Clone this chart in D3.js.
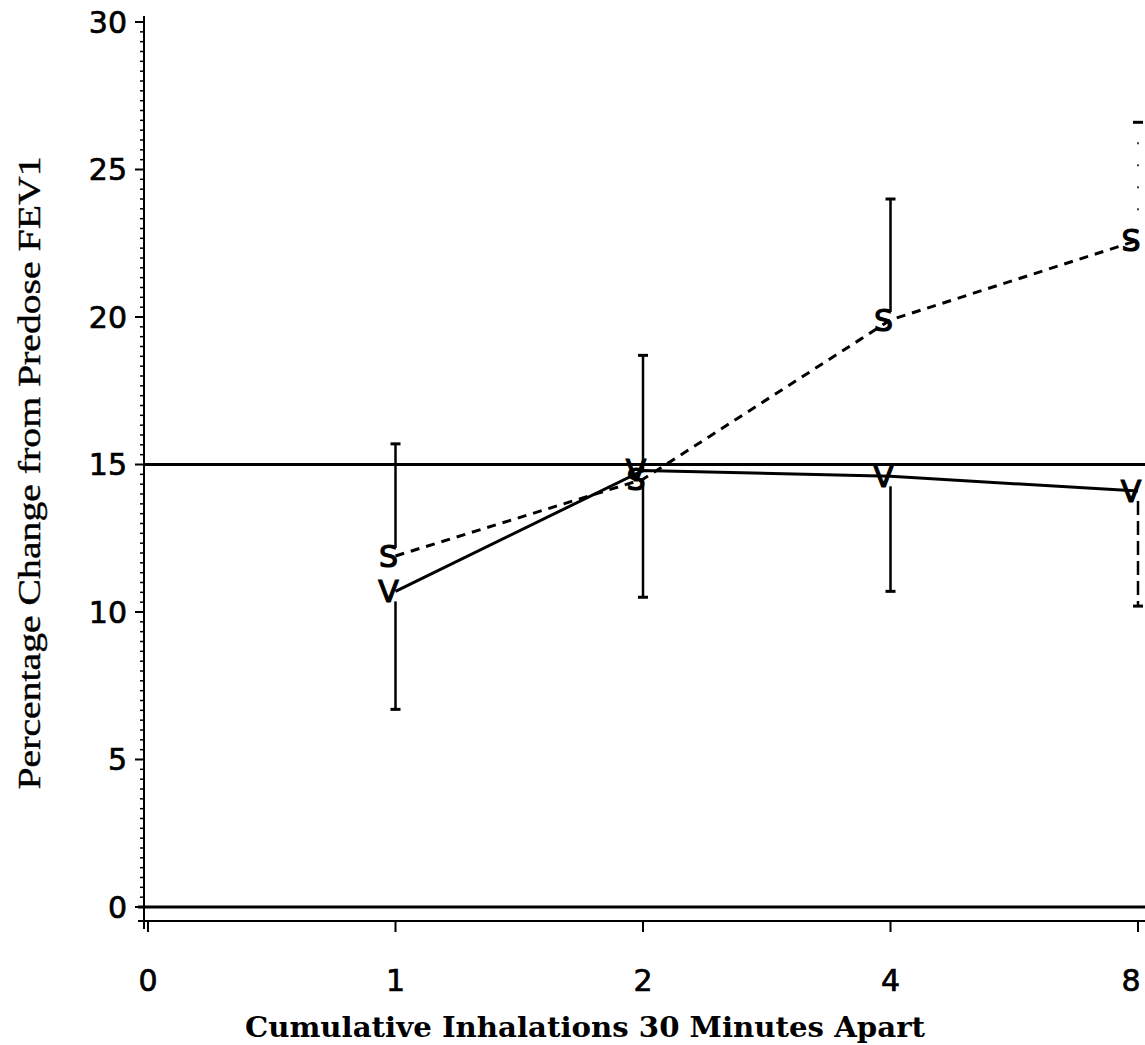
<!DOCTYPE html>
<html>
<head>
<meta charset="utf-8">
<script src="https://cdn.jsdelivr.net/npm/d3@7"></script>
<style>
body{margin:0;background:#fff;}
svg{display:block;}
</style>
</head>
<body>
<svg id="chart" width="1145" height="1045"></svg>
<script>
// values
const xCats=["0","1","2","4","8"];
const doses=["1","2","4","8"];
const sMean=[11.9,14.5,19.9,22.6];
const sUpper=[15.7,18.7,24.0,26.6];
const vMean=[10.7,14.8,14.6,14.1];
const vLower=[6.7,10.5,10.7,10.2];
const yTicks=[0,5,10,15,20,25,30];
const refLevel=15;
const xTitle="Cumulative Inhalations 30 Minutes Apart";
const yTitle="Percentage Change from Predose FEV1";

window.onload=function(){
	const svg=d3.select("#chart");
	const x=d3.scalePoint().domain(xCats).range([148,1138]);
	const y=d3.scaleLinear().domain([0,30]).range([907,22]);
	const axisX=144,axisBottom=921;

	//y axis line and ticks
	svg.append("line")
		.attr("x1",axisX).attr("x2",axisX)
		.attr("y1",y(30)-6).attr("y2",axisBottom+8)
		.attr("stroke","#000").attr("stroke-width",2);
	const minor=d3.range(0,30,1/3).filter(function(d){return Math.abs(d-Math.round(d/5)*5)>0.01;});
	svg.append("g").selectAll("line")
		.data(minor).enter().append("line")
			.attr("x1",axisX-4).attr("x2",axisX)
			.attr("y1",function(d){return y(d)}).attr("y2",function(d){return y(d)})
			.attr("stroke","#000").attr("stroke-width",1.5);
	svg.append("g").selectAll("line")
		.data(yTicks).enter().append("line")
			.attr("x1",axisX-9).attr("x2",axisX)
			.attr("y1",function(d){return y(d)}).attr("y2",function(d){return y(d)})
			.attr("stroke","#000").attr("stroke-width",2);
	svg.append("g").selectAll("text")
		.data(yTicks).enter().append("text")
			.attr("x",127).attr("y",function(d){return y(d)})
			.attr("dy","0.36em")
			.attr("text-anchor","end")
			.style("font-family","DejaVu Sans")
			.style("font-size","30px")
			.style("stroke","#000").style("stroke-width",0.7)
			.text(function(d){return d});

	//x axis
	svg.append("line")
		.attr("x1",138).attr("x2",1145)
		.attr("y1",axisBottom).attr("y2",axisBottom)
		.attr("stroke","#000").attr("stroke-width",2);
	svg.append("g").selectAll("line")
		.data(xCats).enter().append("line")
			.attr("x1",function(d){return x(d)}).attr("x2",function(d){return x(d)})
			.attr("y1",axisBottom).attr("y2",axisBottom+11)
			.attr("stroke","#000").attr("stroke-width",2);
	svg.append("g").selectAll("text")
		.data(xCats).enter().append("text")
			.attr("x",function(d){return Math.min(x(d),1131)}).attr("y",991)
			.attr("text-anchor","middle")
			.style("font-family","DejaVu Sans")
			.style("font-size","30px")
			.style("stroke","#000").style("stroke-width",0.7)
			.text(function(d){return d});

	//zero line and reference line
	svg.append("line")
		.attr("x1",138).attr("x2",1145)
		.attr("y1",y(0)).attr("y2",y(0))
		.attr("stroke","#000").attr("stroke-width",3);
	svg.append("line")
		.attr("x1",axisX).attr("x2",1145)
		.attr("y1",y(refLevel)).attr("y2",y(refLevel))
		.attr("stroke","#000").attr("stroke-width",3);

	//titles
	svg.append("text")
		.attr("x",585).attr("y",1037)
		.attr("text-anchor","middle")
		.attr("textLength",680).attr("lengthAdjust","spacingAndGlyphs")
		.style("font-family","DejaVu Serif")
		.style("font-weight","bold")
		.style("font-size","28px")
		.text(xTitle);
	svg.append("text")
		.attr("transform","translate(40,473) rotate(-90)")
		.attr("text-anchor","middle")
		.attr("textLength",633).attr("lengthAdjust","spacingAndGlyphs")
		.style("font-family","Liberation Serif")
		.style("font-size","31px")
		.style("stroke","#000").style("stroke-width",0.4)
		.text(yTitle);

	//error bars: S upward, V downward
	const barData=doses.map(function(d,i){
		return {dose:d,s:sMean[i],su:sUpper[i],v:vMean[i],vl:vLower[i],last:i===doses.length-1};
	});
	const bars=svg.append("g");
	bars.selectAll(".up").data(barData).enter().append("line")
		.attr("class","up")
		.attr("x1",function(d){return x(d.dose)}).attr("x2",function(d){return x(d.dose)})
		.attr("y1",function(d){return y(d.s)-8}).attr("y2",function(d){return y(d.su)})
		.attr("stroke","#000").attr("stroke-width",function(d){return d.last?1.5:2.5})
		.attr("stroke-dasharray",function(d){return d.last?"2,20":null});
	bars.selectAll(".upcap").data(barData).enter().append("line")
		.attr("class","upcap")
		.attr("x1",function(d){return x(d.dose)-5}).attr("x2",function(d){return x(d.dose)+5})
		.attr("y1",function(d){return y(d.su)}).attr("y2",function(d){return y(d.su)})
		.attr("stroke","#000").attr("stroke-width",3);
	bars.selectAll(".down").data(barData).enter().append("line")
		.attr("class","down")
		.attr("x1",function(d){return x(d.dose)}).attr("x2",function(d){return x(d.dose)})
		.attr("y1",function(d){return y(d.v)+10}).attr("y2",function(d){return y(d.vl)})
		.attr("stroke","#000").attr("stroke-width",2.5)
		.attr("stroke-dasharray",function(d){return d.last?"14,6":null});
	bars.selectAll(".downcap").data(barData).enter().append("line")
		.attr("class","downcap")
		.attr("x1",function(d){return x(d.dose)-5}).attr("x2",function(d){return x(d.dose)+5})
		.attr("y1",function(d){return y(d.vl)}).attr("y2",function(d){return y(d.vl)})
		.attr("stroke","#000").attr("stroke-width",3);

	//series lines
	const line=d3.line()
		.x(function(d){return x(d.dose)})
		.y(function(d){return y(d.val)});
	svg.append("path")
		.datum(doses.map(function(d,i){return {dose:d,val:sMean[i]}}))
		.attr("d",line)
		.attr("fill","none").attr("stroke","#000").attr("stroke-width",3)
		.attr("stroke-dasharray","9,7");
	svg.append("path")
		.datum(doses.map(function(d,i){return {dose:d,val:vMean[i]}}))
		.attr("d",line)
		.attr("fill","none").attr("stroke","#000").attr("stroke-width",3);

	//plot symbols
	const marks=svg.append("g")
		.style("font-family","DejaVu Sans")
		.style("font-size","30px")
		.style("stroke","#000").style("stroke-width",1.2)
		.attr("text-anchor","middle");
	marks.selectAll(".s").data(barData).enter().append("text")
		.attr("x",function(d){return x(d.dose)-7}).attr("y",function(d){return y(d.s)})
		.attr("dy","0.36em")
		.text("S");
	marks.selectAll(".v").data(barData).enter().append("text")
		.attr("x",function(d){return x(d.dose)-7}).attr("y",function(d){return y(d.v)})
		.attr("dy","0.36em")
		.text("V");
}
</script>
</body>
</html>
